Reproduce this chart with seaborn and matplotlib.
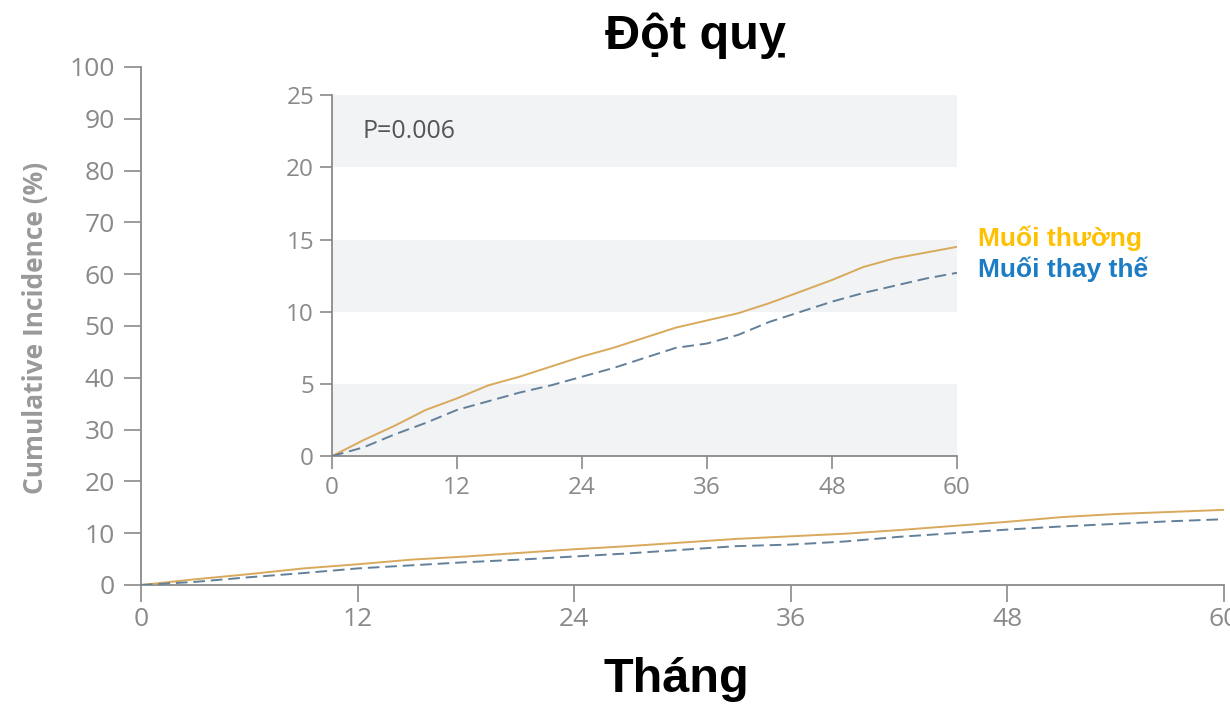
import numpy as np
import pandas as pd
import matplotlib
matplotlib.use("Agg")
import matplotlib.pyplot as plt
import seaborn as sns

# Cumulative incidence of stroke (%) by month of follow-up
months = [0, 3, 6, 9, 12, 15, 18, 21, 24, 27, 30, 33, 36, 39, 42, 45, 48, 51, 54, 57, 60]
regular_salt = [0, 1.1, 2.1, 3.2, 4.0, 4.9, 5.5, 6.2, 6.9, 7.5, 8.2, 8.9, 9.4, 9.9,
                10.6, 11.4, 12.2, 13.1, 13.7, 14.1, 14.5]
salt_substitute = [0, 0.6, 1.5, 2.3, 3.2, 3.8, 4.4, 4.9, 5.5, 6.1, 6.8, 7.5, 7.8, 8.4,
                   9.3, 10.0, 10.7, 11.3, 11.8, 12.3, 12.7]
group_names = ["Muối thường", "Muối thay thế"]

main_yticks = [0, 10, 20, 30, 40, 50, 60, 70, 80, 90, 100]
inset_yticks = [0, 5, 10, 15, 20, 25]
xticks = [0, 12, 24, 36, 48, 60]
p_value_text = "P=0.006"

df = pd.concat([
    pd.DataFrame({"month": months, "incidence": regular_salt, "group": group_names[0]}),
    pd.DataFrame({"month": months, "incidence": salt_substitute, "group": group_names[1]}),
])

sns.set_style("white")
plt.rcParams["font.family"] = ["Open Sans", "DejaVu Sans"]

line_colors = {group_names[0]: "#d9a95c", group_names[1]: "#62809a"}
line_dashes = {group_names[0]: "", group_names[1]: (6, 3)}
label_colors = {group_names[0]: "#FFC000", group_names[1]: "#1C7CC4"}
tick_color = "#8a8a8a"
spine_color = "#8a8a8a"

fig = plt.figure(figsize=(12.3, 7.06), dpi=100)
ax = fig.add_axes([0.1146, 0.1714, 0.8805, 0.7337])
ins = fig.add_axes([0.270, 0.354, 0.508, 0.511])


def style_axes(a, ylim, yticks, tick_len, fsize, ypad, xpad):
    a.set_xlim(0, 60)
    a.set_ylim(*ylim)
    a.set_xticks(xticks)
    a.set_yticks(yticks)
    for side in ("top", "right"):
        a.spines[side].set_visible(False)
    for side in ("left", "bottom"):
        a.spines[side].set_color(spine_color)
        a.spines[side].set_linewidth(1.3)
    a.tick_params(axis="both", colors=spine_color, labelcolor=tick_color,
                  length=tick_len, width=1.2, direction="out", labelsize=fsize)
    a.tick_params(axis="y", pad=ypad, left=True)
    a.tick_params(axis="x", pad=xpad, bottom=True)
    a.set_xlabel("")
    a.set_ylabel("")
    a.set_facecolor("white")
    a.grid(False)


for a in (ax, ins):
    sns.lineplot(data=df, x="month", y="incidence", hue="group", style="group",
                 palette=line_colors, dashes=line_dashes, linewidth=1.4,
                 legend=False, ax=a, zorder=3)

style_axes(ax, (0, 100), main_yticks, 12, 19, 7, 4)
style_axes(ins, (0, 25), inset_yticks, 9, 17.5, 4, 5)

# alternating shaded bands in the inset
for lo in (0, 10, 20):
    ins.axhspan(lo, lo + 5, color="#f1f3f5", zorder=0, lw=0)

ins.text(2.9, 22.5, p_value_text, fontsize=18, color="#555555", va="center", ha="left")

fig.text(0.565, 0.950, "Đột quỵ", fontsize=35, fontweight="bold", color="black",
         ha="center", va="center", family=["Liberation Sans", "DejaVu Sans"])
fig.text(0.5496, 0.037, "Tháng", fontsize=35, fontweight="bold", color="black",
         ha="center", va="center", family=["Liberation Sans", "DejaVu Sans"])
fig.text(0.0285, 0.535, "Cumulative Incidence (%)", fontsize=19, fontweight="bold",
         color="#999999", rotation=90, ha="center", va="center")

fig.text(0.795, 0.663, group_names[0], fontsize=19, fontweight="bold",
         color=label_colors[group_names[0]], ha="left", va="center",
         family=["Liberation Sans", "DejaVu Sans"])
fig.text(0.795, 0.618, group_names[1], fontsize=19, fontweight="bold",
         color=label_colors[group_names[1]], ha="left", va="center",
         family=["Liberation Sans", "DejaVu Sans"])

fig.savefig("out.png", dpi=100)
